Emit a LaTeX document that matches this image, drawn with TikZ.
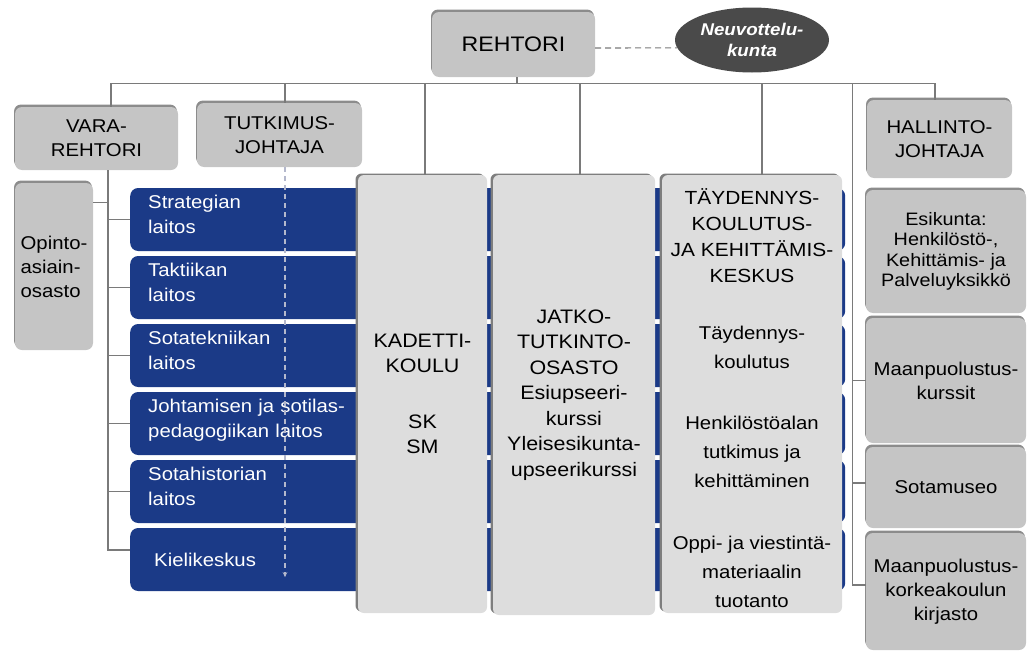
\documentclass[tikz,border=0pt]{standalone}
\usepackage{fontspec}
\setmainfont{Liberation Sans}[FakeStretch=1.1]
\usetikzlibrary{shapes.geometric,shadows,arrows.meta,calc}

\definecolor{boxgray}{HTML}{C5C5C5}
\definecolor{boxedge}{HTML}{8C8C8C}
\definecolor{colgray}{HTML}{DDDDDD}
\definecolor{colshade}{HTML}{7E7E7E}
\definecolor{navy}{HTML}{1B3A87}
\definecolor{linegray}{HTML}{7A7A7A}
\definecolor{ovalgray}{HTML}{4A4A4A}
\definecolor{dashgray}{HTML}{B4B8CC}

\newcommand\setfs[2]{\fontsize{#1}{#2}\selectfont}

\begin{document}
\begin{tikzpicture}[x=1pt,y=-1pt,
  conn/.style={draw=linegray, line width=1.1pt},
  gbox/.style={fill=boxgray, rounded corners=7pt, inner sep=2pt, align=center,
    font=\setfs{18.5}{24},
    drop shadow={opacity=1, fill=boxedge, shadow xshift=-1pt, shadow yshift=2.5pt}},
  colbox/.style={fill=colgray, rounded corners=6pt, inner sep=0pt, align=center,
    font=\setfs{19.5}{25.5},
    drop shadow={opacity=1, fill=colshade, shadow xshift=-2.5pt, shadow yshift=1.5pt}},
  band/.style={fill=navy, rounded corners=8pt, anchor=west, minimum height=63pt,
    inner xsep=18pt, text width=679pt, align=left, text=white,
    font=\setfs{18.5}{24.5}},
  oval/.style={ellipse, fill=ovalgray, minimum width=154pt, minimum height=65pt,
    inner sep=0pt, align=center, text=white, font=\setfs{17}{21}\bfseries\itshape},
  ctext/.style={align=center, inner sep=0pt, font=\setfs{18.5}{29}}
]
\useasboundingbox (0,0) rectangle (1028,653);

% top level
\node[gbox, minimum width=163pt, minimum height=65pt, font=\setfs{21}{25}] (rehtori) at (513.5,44.5) {REHTORI};
\node[oval] (neuvo) at (752,40) {Neuvottelu-\\kunta};

% second level
\node[gbox, minimum width=163pt, minimum height=63pt] (vara) at (96.5,138.5) {VARA-\\REHTORI};
\node[gbox, minimum width=165pt, minimum height=64pt] (tut) at (279.5,135) {TUTKIMUS-\\JOHTAJA};
\node[gbox, minimum width=145pt, minimum height=78pt] (hallinto) at (939.5,139) {HALLINTO-\\JOHTAJA};
\node[gbox, minimum width=78pt, minimum height=167pt, align=left] (opinto) at (54,266.5) {Opinto-\\asiain-\\osasto};

% departments (blue bands running behind the three columns)
\node[band] (b1) at (130,219.5) {Strategian\\laitos\rule[-10pt]{0pt}{0pt}};
\node[band] (b2) at (130,287.5) {Taktiikan\\laitos\rule[-10pt]{0pt}{0pt}};
\node[band] (b3) at (130,355.5) {Sotatekniikan\\laitos\rule[-10pt]{0pt}{0pt}};
\node[band] (b4) at (130,423.5) {Johtamisen ja sotilas-\\pedagogiikan laitos\rule[-10pt]{0pt}{0pt}};
\node[band] (b5) at (130,491.5) {Sotahistorian\\laitos\rule[-10pt]{0pt}{0pt}};
\node[band] (b6) at (130,559.5) {\hspace*{6pt}Kielikeskus};

% research director's dashed line through the departments
\draw[draw=dashgray, line width=1.2pt, dash pattern=on 5pt off 4pt,
  -{Stealth[length=5pt,width=4.5pt]}] ([xshift=5.5pt]tut.south) -- ++(0,410);

% schools
\node[colbox, minimum width=129pt, minimum height=438pt] (kad) at (422.5,394)
  {KADETTI-\\KOULU\\[30pt]SK\\SM};
\node[colbox, minimum width=162pt, minimum height=440pt] (jatko) at (574,395)
  {JATKO-\\TUTKINTO-\\OSASTO\\Esiupseeri-\\kurssi\\Yleisesikunta-\\upseerikurssi};
\node[colbox, minimum width=180pt, minimum height=438pt] (tay) at (752,394) {};
\node[ctext, font=\setfs{19}{26}] (tayhead) at (752,236) {TÄYDENNYS-\\KOULUTUS-\\JA KEHITTÄMIS-\\KESKUS};
\node[ctext] (tay1) at (752,347) {Täydennys-\\koulutus};
\node[ctext] (tay2) at (752,452) {Henkilöstöalan\\tutkimus ja\\kehittäminen};
\node[ctext] (tay3) at (752,572) {Oppi- ja viestintä-\\materiaalin\\tuotanto};

% administration
\node[gbox, minimum width=160pt, minimum height=123pt, font=\setfs{18}{20.5}] (esik) at (946,251.5)
  {Esikunta:\\Henkilöstö-,\\Kehittämis- ja\\Palveluyksikkö};
\node[gbox, minimum width=160pt, minimum height=125pt] (mpk) at (946,380.5) {Maanpuolustus-\\kurssit};
\node[gbox, minimum width=160pt, minimum height=81pt] (museo) at (946,487.5) {Sotamuseo};
\node[gbox, minimum width=160pt, minimum height=117pt] (kirjasto) at (946,591.5)
  {Maanpuolustus-\\korkeakoulun\\kirjasto};

% connectors
\draw[conn] ([xshift=3.5pt]rehtori.south) -- ++(0,6) coordinate (busmid);
\draw[conn] ([xshift=14.5pt]vara.north) |- (busmid) -| ([xshift=-4.5pt]hallinto.north);
\draw[conn] ([xshift=5.5pt]tut.north) -- ([xshift=5.5pt]tut.north |- busmid);
\draw[conn] ([xshift=2.5pt]kad.north) -- ([xshift=2.5pt]kad.north |- busmid);
\draw[conn] ([xshift=6pt]jatko.north) -- ([xshift=6pt]jatko.north |- busmid);
\draw[conn] ([xshift=10pt]tay.north) -- ([xshift=10pt]tay.north |- busmid);
\draw[conn, dash pattern=on 6pt off 4pt] ([yshift=-3.5pt]rehtori.east) -- (neuvo.186);

% vice-rector trunk
\coordinate (vtrunk) at ([xshift=11.5pt]vara.south);
\draw[conn] (vtrunk) |- ([yshift=9.5pt]b6.west);
\foreach \b in {b1,b2,b3,b4,b5}
  \draw[conn] (\b.west) -- (\b.west -| vtrunk);
\draw[conn] ([yshift=-20pt]opinto.north east) -- ([yshift=-20pt]opinto.north east -| vtrunk);

% administration bracket
\draw[conn] ([yshift=6.5pt]kirjasto.west) -- ++(-13,0) |- (busmid);
\draw[conn] (mpk.west) -- ++(-13,0);
\draw[conn] ([yshift=4.5pt]museo.west) -- ++(-13,0);
\end{tikzpicture}
\end{document}
